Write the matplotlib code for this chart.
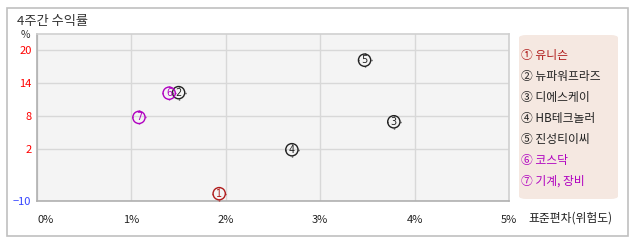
import numpy as np
import matplotlib
matplotlib.use("Agg")
import matplotlib.pyplot as plt
from matplotlib.patches import FancyBboxPatch, Rectangle
from matplotlib.path import Path

plt.rcParams['font.family'] = ['Noto Sans CJK KR', 'DejaVu Sans']

# ---- data ----
names = ["유니슨", "뉴파워프라즈", "디에스케이", "HB테크놀러", "진성티이씨", "코스닥", "기계, 장비"]
markers_txt = ["①", "②", "③", "④", "⑤", "⑥", "⑦"]
digits = ["1", "2", "3", "4", "5", "6", "7"]
std_dev = [1.93, 1.50, 3.78, 2.70, 3.47, 1.40, 1.08]      # x, %
returns_4w = [-8.3, 12.3, 7.0, 1.9, 18.2, 12.2, 7.8]      # y, %
colors = ["#b01c1c", "#222222", "#222222", "#222222", "#222222", "#b000c0", "#b000c0"]
y_ticks = [20, 14, 8, 2, -10]
y_tick_colors = ["#ff0000", "#ff0000", "#ff0000", "#ff0000", "#3344ff"]
x_ticks = [0, 1, 2, 3, 4, 5]
x_tick_labels = ["0%", "1%", "2%", "3%", "4%", "5%"]

W, H = 638, 242
fig = plt.figure(figsize=(W / 100, H / 100), dpi=100)

def fx(px):
    return px / W

def fy(py):
    return 1 - py / H

# outer frame
fig.patches.append(Rectangle((fx(6.5), fy(235.5)), fx(621), 228 / H, transform=fig.transFigure,
                             fill=False, edgecolor="#c0c0c0", lw=1.2))

ax = fig.add_axes([fx(37), fy(201), fx(509 - 37), (201 - 34) / H])
ax.set_facecolor("#f4f4f4")

# piecewise y scale: below 2 compressed
K = (51.7 / 12) / (33 / 6)
def fwd(y):
    y = np.asarray(y, dtype=float)
    return np.where(y >= 2, y, 2 + (y - 2) * K)
def inv(y):
    y = np.asarray(y, dtype=float)
    return np.where(y >= 2, y, 2 + (y - 2) / K)
ax.set_yscale('function', functions=(fwd, inv))
ax.set_xlim(0, 5)
ax.set_ylim(-10, 22.96)

ax.set_yticks(y_ticks)
ax.set_yticklabels([str(v) if v >= 0 else "\u221210" for v in y_ticks], fontsize=8)
for lab, c in zip(ax.get_yticklabels(), y_tick_colors):
    lab.set_color(c)
ax.set_xticks(x_ticks)
ax.set_xticklabels(x_tick_labels, fontsize=8, color="#222222")
ax.get_xticklabels()[0].set_ha('left')
ax.tick_params(axis='both', length=0)
ax.tick_params(axis='x', pad=10)
ax.tick_params(axis='y', pad=4)

ax.grid(True, color="#d8d8d8", lw=1)
ax.set_axisbelow(True)
for s in ["top", "right"]:
    ax.spines[s].set_color("#d0d0d0")
for s in ["left", "bottom"]:
    ax.spines[s].set_color("#b0b0b0")
for s in ax.spines.values():
    s.set_linewidth(1.2)

# tick marks path around circle
verts, codes = [], []
for dx, dy in [(0, 1), (0, -1), (1, 0), (-1, 0)]:
    verts += [(0.84 * dx, 0.84 * dy), (1.0 * dx, 1.0 * dy)]
    codes += [Path.MOVETO, Path.LINETO]
tick_path = Path(verts, codes)

for x, y, c, d in zip(std_dev, returns_4w, colors, digits):
    ax.scatter([x], [y], s=78, marker='o', facecolors='none', edgecolors=c, linewidths=1.0, zorder=3)
    ax.scatter([x], [y], s=106, marker=tick_path, color=c, linewidths=1.0, zorder=3)
    ax.text(x, y, d, color=c, fontsize=7, ha='center', va='center', zorder=4, family='DejaVu Sans')

# title and axis texts
fig.text(fx(17), fy(21), "4주간 수익률", fontsize=9.5, color="#333333", va='center', ha='left')
fig.text(fx(25), fy(35), "%", fontsize=7.5, color="#333333", va='center', ha='center')
fig.text(fx(528), fy(218), "표준편차(위험도)", fontsize=8.5, color="#222222", va='center', ha='left')

# legend box
fig.patches.append(FancyBboxPatch((fx(519), fy(199)), fx(99), 164 / H, transform=fig.transFigure,
                                  boxstyle="round,pad=0,rounding_size=0.012",
                                  facecolor="#f5e8e1", edgecolor="none"))
for i, (m, n, c) in enumerate(zip(markers_txt, names, colors)):
    fig.text(fx(521), fy(55 + i * 21.1), m + " " + n, fontsize=8.5, color=c, va='center', ha='left')

fig.savefig("out.png", dpi=100)
